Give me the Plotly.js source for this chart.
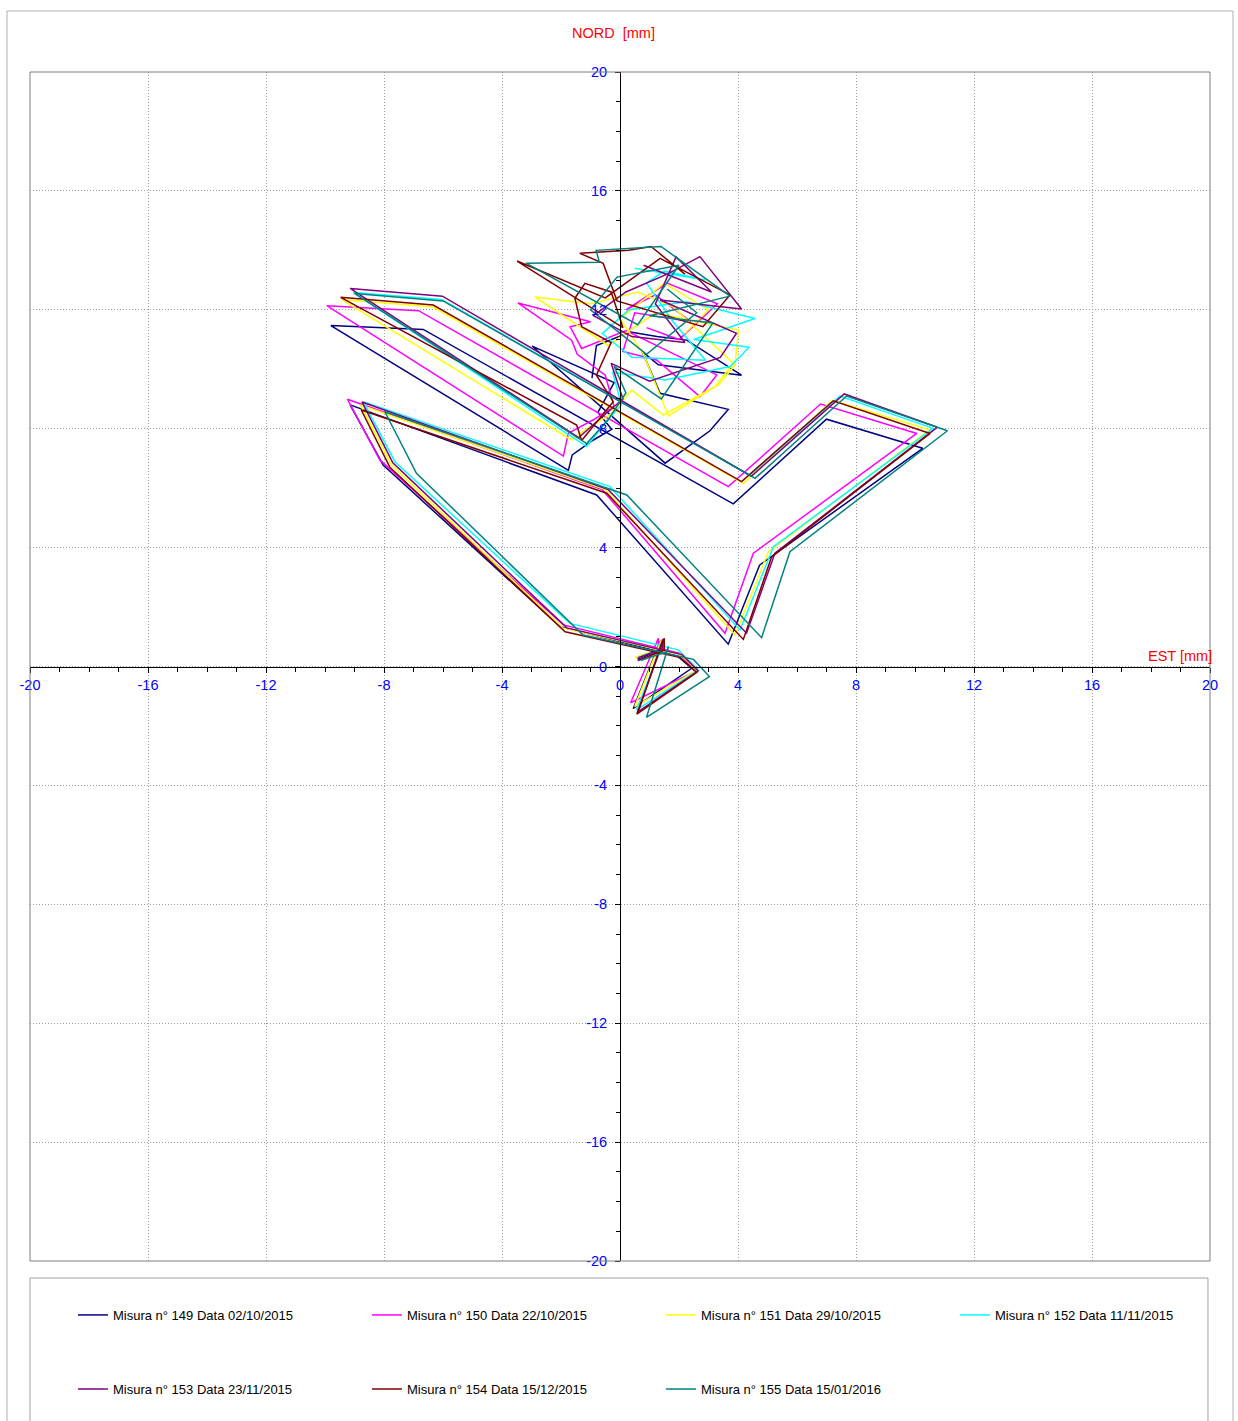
<!DOCTYPE html>
<html>
<head>
<meta charset="utf-8">
<script src="https://cdn.plot.ly/plotly-3.0.1.min.js"></script>
<style>html,body{margin:0;padding:0;background:#fff;}#chart{width:1238px;height:1421px;}</style>
</head>
<body>
<div id="chart"></div>
<script>
// Series names (legend)
const seriesNames = [
  "Misura n° 149 Data 02/10/2015",
  "Misura n° 150 Data 22/10/2015",
  "Misura n° 151 Data 29/10/2015",
  "Misura n° 152 Data 11/11/2015",
  "Misura n° 153 Data 23/11/2015",
  "Misura n° 154 Data 15/12/2015",
  "Misura n° 155 Data 15/01/2016"
];
const seriesColors = ["#000080","#FF00FF","#FFFF00","#00FFFF","#800080","#800000","#008080"];

// EST (x) and NORD (y) cumulative displacements [mm]
const X149 = [0.6,1.35,1.38,0.45,2.43,1.95,-2.03,-8.03,-9.15,-0.79,3.67,4.73,10.26,7.0,3.84,-6.67,-9.8,-1.75,-1.62,-0.9,-0.28,-0.75,-0.2,-1.0,-2.98,1.53,3.05,3.67,1.36,0.75,1.3,4.12,2.26,1.25,0.35,-0.8,-0.95];
const Y149 = [0.25,0.55,0.88,-1.41,-0.06,0.35,1.34,6.78,8.8,5.77,0.75,3.41,7.34,8.32,5.47,11.34,11.47,6.6,7.12,7.62,7.98,8.55,9.55,9.9,10.78,6.84,7.93,8.65,9.19,10.6,10.15,9.8,10.98,11.1,11.25,10.8,9.7];

const X150 = [0.57,1.3,1.3,0.36,2.54,2.0,-1.92,-8.14,-9.24,-0.6,3.56,4.52,10.06,6.8,3.67,-6.83,-9.94,-1.92,-1.75,-0.9,-0.2,-0.5,-1.45,-1.64,-3.46,-1.0,-1.69,-1.3,0.2,3.28,2.71,1.24,0.1,0.5,2.4,1.2,0.2,1.6,3.3,2.0,0.9];
const Y150 = [0.27,0.6,0.95,-1.22,-0.17,0.45,1.4,6.95,8.99,5.95,1.12,3.81,7.84,8.83,6.05,11.97,12.14,7.08,7.85,8.3,8.75,9.8,10.5,10.98,12.23,11.6,11.43,10.7,11.3,9.81,9.08,10.31,10.6,11.9,11.6,12.5,12.0,12.9,12.2,11.0,11.4];

const X151 = [0.5,1.35,1.4,0.5,2.6,2.05,-1.95,-7.74,-8.8,-0.5,3.9,5.03,10.5,7.2,4.18,-6.35,-9.45,-1.64,-1.2,-0.3,0.4,1.47,3.33,3.9,4.01,1.2,-0.4,-2.88,-1.0,0.6,1.8,3.84,3.22,1.64,0.8,0.0,1.5,3.0,2.2];
const Y151 = [0.3,0.6,0.9,-1.35,-0.12,0.4,1.3,6.78,8.8,5.95,1.06,3.86,7.96,8.95,6.16,12.1,12.35,7.62,7.95,8.5,9.3,8.46,9.47,10.14,11.32,11.9,10.8,12.43,12.2,12.6,12.1,10.2,9.41,8.43,10.5,11.7,12.9,12.0,11.2];

const X152 = [0.6,1.45,1.5,0.56,2.66,1.97,-1.7,-7.63,-8.7,-0.34,4.07,5.2,10.62,7.45,4.4,-6.05,-9.04,-1.13,-0.5,0.05,-0.25,1.53,3.73,4.38,2.5,4.58,2.26,0.3,-0.6,0.4,2.9,1.8,0.9,1.5,2.9,0.5];
const Y152 = [0.3,0.62,0.9,-1.46,-0.12,0.56,1.45,6.89,8.91,6.05,1.23,4.03,8.01,9.1,6.44,12.35,12.58,7.4,8.2,8.8,9.9,9.64,10.09,10.74,11.0,11.71,12.27,12.0,11.2,10.4,10.3,11.6,12.9,13.3,13.0,13.4];

const X153 = [0.62,1.45,1.45,0.62,2.65,2.1,-1.8,-7.7,-8.75,-0.4,4.29,5.25,10.76,7.6,4.45,-6.02,-9.15,-1.4,-0.6,0.1,-0.3,1.0,3.4,3.95,1.36,4.12,2.71,1.6,0.2,-0.9,0.4,2.2,1.2,1.9,3.1,0.8];
const Y153 = [0.3,0.6,0.92,-1.52,-0.15,0.4,1.3,6.85,8.9,5.95,1.12,3.81,8.05,9.17,6.4,12.46,12.72,7.7,8.4,9.0,10.2,9.6,10.4,11.21,12.33,12.03,13.79,13.2,12.6,11.8,11.1,10.9,12.2,13.78,12.6,13.5];

const X154 = [0.6,1.5,1.5,0.57,2.6,2.05,-1.86,-7.8,-8.77,-0.45,4.18,5.14,10.51,7.23,4.12,-6.33,-9.47,-1.47,-1.3,-0.23,-0.8,-0.3,-1.3,-1.53,-1.19,-0.3,0.1,-3.49,-0.5,1.36,3.73,2.81,-0.1,-0.57,-1.36,0.3,1.05,2.2];
const Y154 = [0.2,0.55,0.95,-1.6,-0.2,0.3,1.17,6.7,8.63,5.83,0.91,3.69,7.84,8.94,6.22,12.16,12.42,8.12,7.6,8.91,9.8,10.9,11.43,12.39,12.89,12.6,11.4,13.64,12.4,13.73,12.5,11.43,12.3,13.56,13.9,14.0,14.13,13.2];

const X155 = [0.7,1.6,1.64,0.9,3.03,2.49,-1.25,-6.9,-7.97,0.23,4.8,5.76,11.1,7.68,4.58,-6.0,-9.0,-1.13,-0.4,0.2,-0.2,1.4,3.15,1.0,3.73,1.39,-0.81,-0.7,-3.19,0.6,2.0,-0.1,-1.0,0.9,2.6,1.6];
const Y155 = [0.2,0.5,0.67,-1.71,-0.34,0.24,1.06,6.5,8.57,5.77,0.97,3.86,7.93,9.1,6.33,12.3,12.55,7.5,8.3,9.2,10.1,9.0,11.56,11.8,12.46,14.13,14.0,13.6,13.57,11.5,13.5,13.1,12.0,10.5,11.9,12.7];

const allX = [X149,X150,X151,X152,X153,X154,X155];
const allY = [Y149,Y150,Y151,Y152,Y153,Y154,Y155];

const axisTicks = [-20,-16,-12,-8,-4,0,4,8,12,16,20];
const FONT = "Liberation Sans, Arial, sans-serif";
const legendOf = ["legend","legend","legend","legend3","legend2","legend2","legend2"];

const traces = allX.map((xs, i) => ({
  type: "scatter",
  mode: "lines",
  x: xs,
  y: allY[i],
  name: seriesNames[i],
  line: {color: seriesColors[i], width: 1.5},
  legend: legendOf[i],
  hoverinfo: "skip"
}));

const axisCommon = {
  range: [-20, 20],
  tickvals: axisTicks,
  ticktext: axisTicks.map(String),
  showgrid: true,
  gridcolor: "#a0a0a0",
  griddash: "1px,2px",
  gridwidth: 1,
  zeroline: false,
  showline: true,
  linecolor: "#000000",
  linewidth: 1,
  ticks: "outside",
  ticklen: 5,
  tickcolor: "#000000",
  minor: {dtick: 1, ticks: "outside", ticklen: 4, tickcolor: "#000000", showgrid: false},
  tickfont: {family: FONT, size: 14.5, color: "#0000FF"},
  anchor: "free",
  position: 0.5,
  fixedrange: true
};

const legendCommon = {
  orientation: "h",
  xref: "paper", yref: "paper",
  xanchor: "left", yanchor: "middle",
  entrywidth: 249, entrywidthmode: "pixels",
  font: {family: FONT, size: 13, color: "#000000"},
  bgcolor: "rgba(0,0,0,0)",
  borderwidth: 0,
  itemclick: false, itemdoubleclick: false
};

const layout = {
  width: 1238,
  height: 1421,
  margin: {l: 30, r: 28, t: 72, b: 160, autoexpand: false},
  paper_bgcolor: "#ffffff",
  plot_bgcolor: "#ffffff",
  showlegend: true,
  xaxis: Object.assign({}, axisCommon, {domain: [0, 1]}),
  yaxis: Object.assign({}, axisCommon, {domain: [0, 1], ticklabelstandoff: 5}),
  legend: Object.assign({}, legendCommon, {x: 0.0364, y: -0.0454}),
  legend3: Object.assign({}, legendCommon, {x: 0.7839, y: -0.0454}),
  legend2: Object.assign({}, legendCommon, {x: 0.0364, y: -0.1077}),
  shapes: [
    {type: "rect", xref: "paper", yref: "paper", x0: 0, x1: 1, y0: 0, y1: 1,
     line: {color: "#7f7f7f", width: 1}, fillcolor: "rgba(0,0,0,0)", layer: "above"},
    {type: "rect", xref: "paper", yref: "paper", x0: -0.0195, x1: 1.0195, y0: -0.14, y1: 1.0513,
     line: {color: "#b0b0b0", width: 1}, fillcolor: "rgba(0,0,0,0)"},
    {type: "rect", xref: "paper", yref: "paper", x0: 0, x1: 0.9983, y0: -0.137, y1: -0.0143,
     line: {color: "#a0a0a0", width: 1}, fillcolor: "rgba(0,0,0,0)"}
  ],
  annotations: [
    {text: "NORD  [mm]", xref: "paper", yref: "paper", x: 0.4949, y: 1.0328,
     xanchor: "center", yanchor: "middle", showarrow: false,
     font: {family: FONT, size: 14.5, color: "#FF0000"}},
    {text: "EST [mm]", xref: "paper", yref: "paper", x: 1.0034, y: 0.5088,
     xanchor: "right", yanchor: "middle", showarrow: false,
     font: {family: FONT, size: 14.5, color: "#FF0000"}}
  ]
};

Plotly.newPlot("chart", traces, layout, {staticPlot: true, displayModeBar: false});
</script>
</body>
</html>
